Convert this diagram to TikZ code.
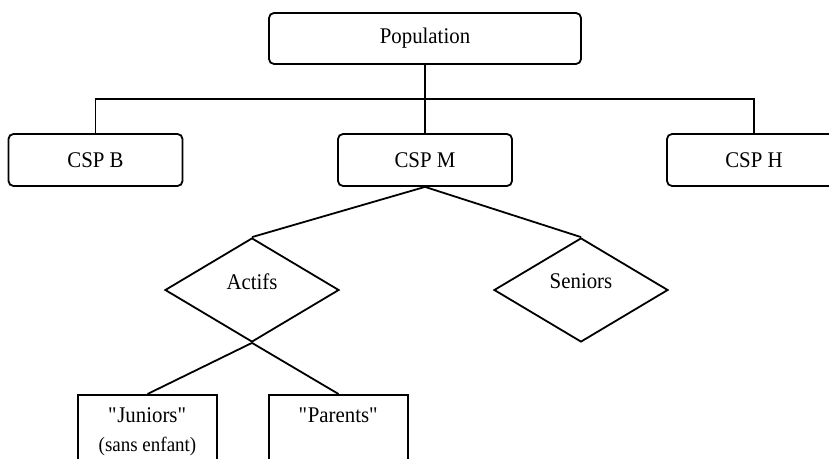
\documentclass[tikz,border=0pt]{standalone}
\usepackage{fontspec}
\setmainfont{Liberation Serif}[FakeStretch=0.93]
\usetikzlibrary{shapes.geometric}
\tikzset{
  catbox/.style={rectangle, draw, rounded corners=5bp, line width=1.8bp,
    minimum width=174bp, minimum height=52bp, inner sep=0pt},
  splitnode/.style={diamond, draw, line width=1.8bp,
    minimum width=174bp, minimum height=104bp, inner sep=0pt, text depth=17bp},
  leafbox/.style={rectangle, draw, line width=1.8bp, anchor=north, inner sep=0pt},
  link/.style={draw, line width=1.8bp}
}
\newcommand{\leaftext}[1]{\parbox[t][90bp][t]{139bp}{\centering\rule{0pt}{28bp}#1}}

\begin{document}
\begin{tikzpicture}[x=1bp, y=-1bp, font=\fontsize{22.5}{29}\selectfont]
  \useasboundingbox (0,0) rectangle (829,459);
  \clip (0,0) rectangle (829,459);

  % Top level
  \node[catbox, minimum width=312bp, minimum height=51bp] (pop) at (425,38.5) {Population};

  % CSP level
  \node[catbox] (cspb) at (95.5,160) {CSP B};
  \node[catbox] (cspm) at (425,160) {CSP M};
  \node[catbox] (csph) at (754,160) {CSP H};

  % Split of CSP M
  \node[splitnode] (actifs) at (252,290) {Actifs};
  \node[splitnode] (seniors) at (581,290) {Seniors};

  % Leaves (cut by the bottom edge)
  \node[leafbox] (juniors) at (147.5,394) {\leaftext{\textquotedbl Juniors\textquotedbl\\{\fontsize{20.5}{29}\selectfont (sans enfant)}}};
  \node[leafbox] (parents) at (338.5,394) {\leaftext{\textquotedbl Parents\textquotedbl}};

  % Connections
  \coordinate (bus) at (0,99);
  \draw[link] (pop.south) -- (cspm.north);
  \draw[link] (cspb.north) -- (cspb.north |- bus) -| (csph.north);
  \draw[link] (cspm.south) -- (actifs.north);
  \draw[link] (cspm.south) -- (seniors.north);
  \draw[link] (actifs.south) -- (juniors.north);
  \draw[link] (actifs.south) -- (parents.north);
\end{tikzpicture}
\end{document}
